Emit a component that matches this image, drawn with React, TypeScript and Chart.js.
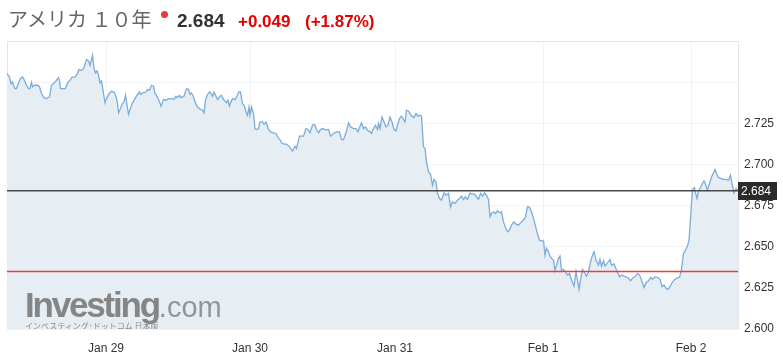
import { useEffect, useRef } from "react";
import { Chart, registerables } from "chart.js";

Chart.register(...registerables);

// ---- Data ----
const titleName = "アメリカ １０年";
const lastPrice = 2.684;
const prevClose = 2.635;
const changeText = "+0.049";
const changePctText = "(+1.87%)";

const dayLabels = ["Jan 29", "Jan 30", "Jan 31", "Feb 1", "Feb 2"];
const dayStartBars = [198, 486, 776, 1072, 1368];
const barRange = [0, 1462];

const yGridValues = [2.6, 2.625, 2.65, 2.675, 2.7, 2.725, 2.75];
const yLabelValues = [2.6, 2.625, 2.65, 2.675, 2.7, 2.725];
const yRange = [2.6, 2.775];

// [bar index (≈5‑minute bars), yield]
const quotesJan28: [number, number][] = [
  [0, 2.7552], [5, 2.7531], [8, 2.7491], [11, 2.7501], [13, 2.7481], [16, 2.7461], [19, 2.7461], [23, 2.7495], [27, 2.7522], [31, 2.7531],
  [34, 2.7516], [39, 2.7481], [43, 2.7461], [46, 2.7461], [49, 2.7499], [51, 2.7471], [55, 2.7481], [61, 2.7481], [65, 2.7471], [69, 2.7431],
  [74, 2.7404], [79, 2.74], [85, 2.741], [89, 2.7481], [94, 2.7495], [98, 2.7507], [103, 2.7528], [105, 2.7511], [107, 2.7461], [113, 2.7461],
  [117, 2.7461], [121, 2.7495], [126, 2.7511], [130, 2.7531], [136, 2.7531], [141, 2.7552], [144, 2.7576], [149, 2.7572], [153, 2.7582], [156, 2.7609],
  [159, 2.7637], [163, 2.7629], [166, 2.7602], [169, 2.7637], [171, 2.7663], [174, 2.7582], [177, 2.7556], [180, 2.7568], [183, 2.7542], [186, 2.7495],
  [189, 2.7507], [192, 2.7451],
];
const quotesJan29: [number, number][] = [
  [196, 2.7374], [199, 2.74], [205, 2.7434], [209, 2.7445], [214, 2.744], [218, 2.7414], [221, 2.737], [223, 2.7313],
  [227, 2.734], [231, 2.737], [234, 2.738], [237, 2.742], [239, 2.738], [243, 2.7305], [246, 2.7334], [251, 2.7374], [256, 2.74], [261, 2.7425],
  [265, 2.744], [267, 2.7426], [273, 2.7437], [278, 2.744], [281, 2.7455], [285, 2.7451], [289, 2.7481], [293, 2.7475], [296, 2.7431], [301, 2.741],
  [305, 2.738], [308, 2.7354], [313, 2.7394], [318, 2.739], [323, 2.74], [329, 2.74], [334, 2.7396], [338, 2.7414], [341, 2.7406], [345, 2.742],
  [348, 2.7406], [354, 2.7414], [359, 2.7459], [363, 2.7455], [366, 2.7426], [369, 2.7434], [373, 2.741], [376, 2.738], [381, 2.7349], [386, 2.7337],
  [391, 2.7329], [394, 2.7313], [397, 2.739], [401, 2.7425], [405, 2.744], [408, 2.7431], [411, 2.7414], [414, 2.7439], [418, 2.7414], [421, 2.7394],
  [426, 2.7414], [429, 2.7419], [433, 2.7394], [436, 2.7386], [439, 2.7374], [442, 2.739], [445, 2.7354], [447, 2.7374], [451, 2.74], [456, 2.7394],
  [459, 2.741], [464, 2.744], [467, 2.744], [471, 2.737], [475, 2.7354], [478, 2.7319], [481, 2.7299], [484, 2.7349],
];
const quotesJan30: [number, number][] = [
  [486, 2.7299], [489, 2.7349], [493, 2.7309], [496, 2.7218], [499, 2.7212], [503, 2.7218], [506, 2.7258], [511, 2.7258], [514, 2.7244], [518, 2.7258],
  [523, 2.7212], [527, 2.7198], [533, 2.7192], [538, 2.7188], [543, 2.7158], [546, 2.7151], [549, 2.7131], [554, 2.7123], [559, 2.7123], [565, 2.7107],
  [571, 2.7082], [576, 2.7111], [579, 2.7097], [585, 2.7172], [593, 2.7172], [598, 2.7218], [602, 2.7212], [606, 2.7192], [611, 2.7238], [615, 2.7243],
  [619, 2.7212], [623, 2.7192], [627, 2.7212], [631, 2.7218], [636, 2.7212], [643, 2.7212], [647, 2.7172], [653, 2.7188], [659, 2.7198], [665, 2.7198],
  [669, 2.7151], [673, 2.7151], [678, 2.7192], [683, 2.7252], [687, 2.7228], [693, 2.7218], [698, 2.7218], [702, 2.7198], [706, 2.7232], [709, 2.7252],
  [713, 2.7218], [717, 2.7228], [721, 2.7208], [726, 2.7198], [729, 2.7188], [733, 2.7218], [737, 2.7238], [741, 2.7212], [743, 2.7249], [746, 2.7218],
  [750, 2.7289], [754, 2.7258], [758, 2.7228], [762, 2.7238], [766, 2.7289], [770, 2.7258], [774, 2.7212],
];
const quotesJan31: [number, number][] = [
  [778, 2.7204], [781, 2.7238], [785, 2.7279], [789, 2.7293], [793, 2.7273], [796, 2.7258], [799, 2.7329], [803, 2.7325], [806, 2.7309], [810, 2.7293],
  [814, 2.7285], [818, 2.7309], [822, 2.7293], [826, 2.7299], [829, 2.7293], [833, 2.7107], [836, 2.7097], [839, 2.7016], [843, 2.6955], [847, 2.6941],
  [851, 2.6874], [854, 2.6909], [858, 2.6894], [861, 2.6827], [865, 2.6793], [869, 2.6783], [874, 2.6827], [878, 2.6813], [883, 2.6824], [887, 2.6742],
  [891, 2.6773], [896, 2.6763], [901, 2.6783], [905, 2.6793], [909, 2.6807], [913, 2.6787], [917, 2.6803], [921, 2.6787], [926, 2.6827], [930, 2.6819],
  [935, 2.6819], [939, 2.6803], [943, 2.6787], [947, 2.6824], [951, 2.6807], [955, 2.6827], [959, 2.6813], [963, 2.6787], [966, 2.6682], [969, 2.6702],
  [973, 2.6712], [977, 2.6702], [981, 2.6718], [985, 2.6706], [989, 2.6712], [993, 2.6651], [997, 2.6617], [1001, 2.6591], [1005, 2.6601], [1009, 2.6631],
  [1014, 2.6651], [1018, 2.6637], [1023, 2.6631], [1026, 2.6642], [1029, 2.6651], [1033, 2.6662], [1037, 2.6682], [1041, 2.6742], [1045, 2.6739], [1049, 2.6712],
  [1053, 2.6672], [1057, 2.6625], [1061, 2.6577], [1065, 2.654], [1069, 2.6536],
];
const quotesFeb1: [number, number][] = [
  [1073, 2.6536], [1076, 2.6449], [1079, 2.649], [1083, 2.6469], [1086, 2.6443], [1089, 2.6429], [1093, 2.6419], [1096, 2.6354], [1099, 2.6388], [1103, 2.6429],
  [1106, 2.6443], [1109, 2.6358], [1113, 2.6362], [1117, 2.6348], [1121, 2.6328], [1125, 2.6338], [1129, 2.6297], [1134, 2.6261], [1138, 2.6348], [1141, 2.6297],
  [1144, 2.6241], [1147, 2.6297], [1151, 2.6362], [1155, 2.6342], [1159, 2.6322], [1163, 2.6348], [1167, 2.6409], [1171, 2.6449], [1174, 2.6469], [1178, 2.6419],
  [1183, 2.6388], [1186, 2.6423], [1189, 2.6382], [1193, 2.6415], [1196, 2.6382], [1201, 2.6402], [1206, 2.6423], [1209, 2.6388], [1214, 2.6395], [1219, 2.6358],
  [1225, 2.6317], [1229, 2.6328], [1234, 2.6322], [1238, 2.6317], [1243, 2.6308], [1247, 2.6293], [1251, 2.6308], [1256, 2.6317], [1261, 2.6338], [1265, 2.6328],
  [1269, 2.6297], [1274, 2.6253], [1278, 2.6281], [1283, 2.6293], [1287, 2.6314], [1291, 2.6302], [1296, 2.6317], [1301, 2.6314], [1306, 2.6302], [1310, 2.6257],
  [1314, 2.6267], [1318, 2.6247], [1322, 2.6241], [1326, 2.6257], [1330, 2.6281], [1334, 2.6297], [1339, 2.6308], [1345, 2.6314], [1349, 2.6362], [1353, 2.6459],
  [1357, 2.648], [1361, 2.6504], [1364, 2.654], [1366, 2.6621],
];
const quotesFeb2: [number, number][] = [
  [1369, 2.6763], [1371, 2.6848], [1375, 2.686], [1377, 2.6827], [1380, 2.6793], [1383, 2.6839], [1387, 2.686], [1391, 2.6884], [1394, 2.69], [1397, 2.688],
  [1401, 2.6844], [1405, 2.6884], [1409, 2.6924], [1413, 2.6949], [1416, 2.6969], [1419, 2.6945], [1423, 2.6921], [1427, 2.6915], [1433, 2.6909], [1438, 2.6909],
  [1443, 2.6904], [1447, 2.6935], [1450, 2.6884], [1454, 2.6827], [1458, 2.6854], [1462, 2.6844],
];

const allQuotes = [...quotesJan28, ...quotesJan29, ...quotesJan30, ...quotesJan31, ...quotesFeb1, ...quotesFeb2];

const FONT = '"Liberation Sans", Arial, Helvetica, sans-serif';

export default function App() {
  const canvasRef = useRef<HTMLCanvasElement | null>(null);

  useEffect(() => {
    const canvas = canvasRef.current;
    if (!canvas) return;

    const framePlugin = {
      id: "frame",
      beforeDatasetsDraw(chart: any) {
        const { ctx, chartArea } = chart;
        ctx.save();
        ctx.strokeStyle = "#e1e6ed";
        ctx.lineWidth = 1;
        ctx.beginPath();
        ctx.moveTo(chartArea.left + 0.5, chartArea.bottom);
        ctx.lineTo(chartArea.left + 0.5, chartArea.top + 0.5);
        ctx.lineTo(chartArea.right, chartArea.top + 0.5);
        ctx.stroke();
        ctx.restore();
      },
    };

    const priceTagPlugin = {
      id: "priceTag",
      afterDraw(chart: any) {
        const { ctx, chartArea } = chart;
        const y = Math.round(chart.scales.y.getPixelForValue(lastPrice));
        ctx.save();
        ctx.fillStyle = "#2b2b2b";
        ctx.fillRect(chartArea.right, y - 9, 39, 18);
        ctx.fillStyle = "#ffffff";
        ctx.font = `12px ${FONT}`;
        ctx.textBaseline = "middle";
        ctx.textAlign = "left";
        ctx.fillText(lastPrice.toFixed(3), chartArea.right + 3, y + 0.5);
        ctx.restore();
      },
    };

    const chart = new Chart(canvas, {
      type: "line",
      data: {
        datasets: [
          {
            data: [
              { x: barRange[0], y: lastPrice },
              { x: barRange[1], y: lastPrice },
            ],
            borderColor: "#4a4a4a",
            borderWidth: 1.5,
            pointRadius: 0,
            fill: false,
            order: 0,
          },
          {
            data: [
              { x: barRange[0], y: prevClose },
              { x: barRange[1], y: prevClose },
            ],
            borderColor: "#f23a3a",
            borderWidth: 1.5,
            pointRadius: 0,
            fill: false,
            order: 1,
          },
          {
            data: allQuotes.map(([x, y]) => ({ x, y })),
            borderColor: "#7aacdc",
            borderWidth: 1.3,
            backgroundColor: "#e6eef4",
            fill: "start",
            pointRadius: 0,
            tension: 0,
            order: 2,
          },
        ],
      },
      options: {
        responsive: false,
        animation: false,
        devicePixelRatio: 1,
        layout: { padding: { left: 7, top: 41, right: 0, bottom: 0 } },
        plugins: { legend: { display: false }, tooltip: { enabled: false } },
        scales: {
          x: {
            type: "linear",
            min: barRange[0],
            max: barRange[1],
            afterBuildTicks: (s: any) => {
              s.ticks = dayStartBars.map((v) => ({ value: v }));
            },
            afterFit: (s: any) => {
              s.height = 31;
            },
            ticks: {
              autoSkip: false,
              maxRotation: 0,
              padding: 12,
              color: "#333",
              font: { family: FONT, size: 12 },
              callback: (v: any) => {
                const i = dayStartBars.indexOf(Number(v));
                return i >= 0 ? dayLabels[i] : "";
              },
            },
            grid: { color: "#f1f3f6", drawTicks: false },
            border: { display: false },
          },
          y: {
            position: "right",
            min: yRange[0],
            max: yRange[1],
            afterBuildTicks: (s: any) => {
              s.ticks = yGridValues.map((v) => ({ value: v }));
            },
            afterFit: (s: any) => {
              s.width = 45;
            },
            ticks: {
              padding: 6,
              color: "#333",
              font: { family: FONT, size: 12 },
              callback: (v: any) => {
                const n = Number(v);
                return yLabelValues.some((l) => Math.abs(l - n) < 1e-6) ? n.toFixed(3) : "";
              },
            },
            grid: { color: "#f1f3f6", drawTicks: false },
            border: { color: "#e1e6ed" },
          },
        },
      },
      plugins: [framePlugin, priceTagPlugin],
    } as any);

    return () => chart.destroy();
  }, []);

  return (
    <div style={{ position: "absolute", left: 0, top: 0, width: 783, height: 360, background: "#fff", overflow: "hidden" }}>
      <canvas ref={canvasRef} width={783} height={360} style={{ position: "absolute", left: 0, top: 0 }} />
      <div
        style={{
          position: "absolute",
          left: 8,
          top: 7,
          display: "flex",
          alignItems: "baseline",
          whiteSpace: "nowrap",
          lineHeight: "24px",
        }}
      >
        <span style={{ display: "inline-block", width: 169, fontFamily: '"Noto Sans CJK JP", sans-serif', fontSize: 20, color: "#666" }}>
          {titleName}
        </span>
        <span style={{ display: "inline-block", width: 61, fontFamily: FONT, fontWeight: 700, fontSize: 19, color: "#333" }}>
          {lastPrice.toFixed(3)}
        </span>
        <span style={{ display: "inline-block", width: 67, fontFamily: FONT, fontWeight: 700, fontSize: 17, color: "#e50000" }}>
          {changeText}
        </span>
        <span style={{ display: "inline-block", fontFamily: FONT, fontWeight: 700, fontSize: 17, color: "#e50000" }}>
          {changePctText}
        </span>
      </div>
      <div style={{ position: "absolute", left: 161, top: 11, width: 7, height: 7, borderRadius: "50%", background: "#e8383d" }} />
      <div
        style={{
          position: "absolute",
          left: 7,
          top: 41,
          width: 731,
          height: 288,
          overflow: "hidden",
          pointerEvents: "none",
        }}
      >
        <div
          style={{
            position: "absolute",
            left: 18,
            top: 246,
            whiteSpace: "nowrap",
            fontFamily: FONT,
            fontSize: 35,
            lineHeight: "35px",
            fontWeight: 700,
            color: "#858585",
          }}
        >
          <span style={{ letterSpacing: -2.2 }}>Investing</span>
          <span style={{ fontSize: 29, fontWeight: 400, color: "#959595" }}>.com</span>
        </div>
        <div
          style={{
            position: "absolute",
            left: 18,
            top: 281,
            whiteSpace: "nowrap",
            fontFamily: '"Noto Sans CJK JP", sans-serif',
            fontSize: 8,
            lineHeight: "8px",
            color: "#8a8a8a",
          }}
        >
          インベスティング･ドットコム 日本版
        </div>
      </div>
    </div>
  );
}
